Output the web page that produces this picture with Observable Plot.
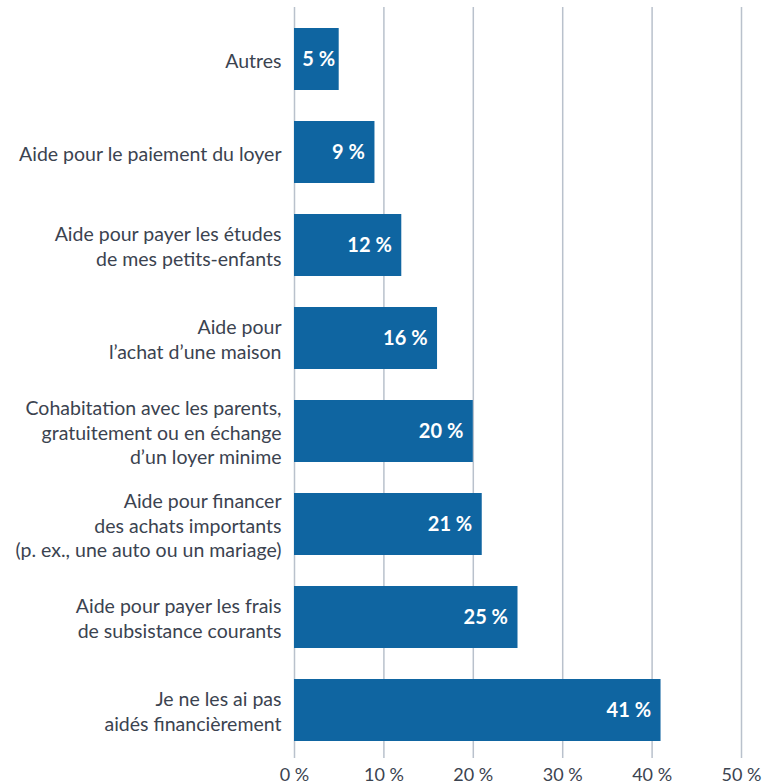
<!DOCTYPE html>
<html>
<head>
<meta charset="utf-8">
<script src="https://cdn.jsdelivr.net/npm/d3@7"></script>
<script src="https://cdn.jsdelivr.net/npm/@observablehq/plot@0.6"></script>
<style>
  html, body { margin: 0; padding: 0; background: #fff; }
  #chart svg { display: block; }
</style>
</head>
<body>
<div id="chart"></div>
<script>
const categories = [
  "Autres",
  "Aide pour le paiement du loyer",
  "Aide pour payer les études\nde mes petits-enfants",
  "Aide pour\nl’achat d’une maison",
  "Cohabitation avec les parents,\ngratuitement ou en échange\nd’un loyer minime",
  "Aide pour financer\ndes achats importants\n(p. ex., une auto ou un mariage)",
  "Aide pour payer les frais\nde subsistance courants",
  "Je ne les ai pas\naidés financièrement"
];
const values = [5, 9, 12, 16, 20, 21, 25, 41];
const xTicks = [0, 10, 20, 30, 40, 50];

const data = categories.map((c, i) => ({category: c, value: values[i]}));

const barColor = "#0f65a1";
const gridColor = "#b9c1cc";
const textColor = "#3b4350";

const chart = Plot.plot({
  width: 778,
  height: 784,
  marginLeft: 294,
  marginRight: 37,
  marginTop: 7,
  marginBottom: 26,
  style: {fontFamily: "Lato, 'Open Sans', sans-serif", background: "#fff"},
  x: {domain: [0, 50], ticks: xTicks},
  y: {domain: categories, range: [25, 743], paddingInner: 0.338, paddingOuter: 0},
  marks: [
    Plot.gridX(xTicks, {stroke: gridColor, strokeOpacity: 1, strokeWidth: 1.5}),
    Plot.axisX({
      ticks: xTicks,
      tickFormat: d => `${d} %`,
      tickSize: 0,
      tickPadding: 10,
      fontSize: 18,
      fill: textColor,
      label: null
    }),
    Plot.axisY({
      tickSize: 0,
      tickPadding: 13,
      fontSize: 19.5,
      fill: textColor,
      lineHeight: 1.28,
      label: null
    }),
    Plot.barX(data, {x: "value", y: "category", fill: barColor}),
    Plot.text(data.filter(d => d.value >= 9), {
      x: "value", y: "category",
      text: d => `${d.value} %`,
      textAnchor: "end", dx: -10,
      fill: "white", fontWeight: "bold", fontSize: 20
    }),
    Plot.text(data.filter(d => d.value < 9), {
      x: "value", y: "category",
      text: d => `${d.value} %`,
      textAnchor: "end", dx: -4,
      fill: "white", fontWeight: "bold", fontSize: 20
    })
  ]
});
document.getElementById("chart").append(chart);
</script>
</body>
</html>
